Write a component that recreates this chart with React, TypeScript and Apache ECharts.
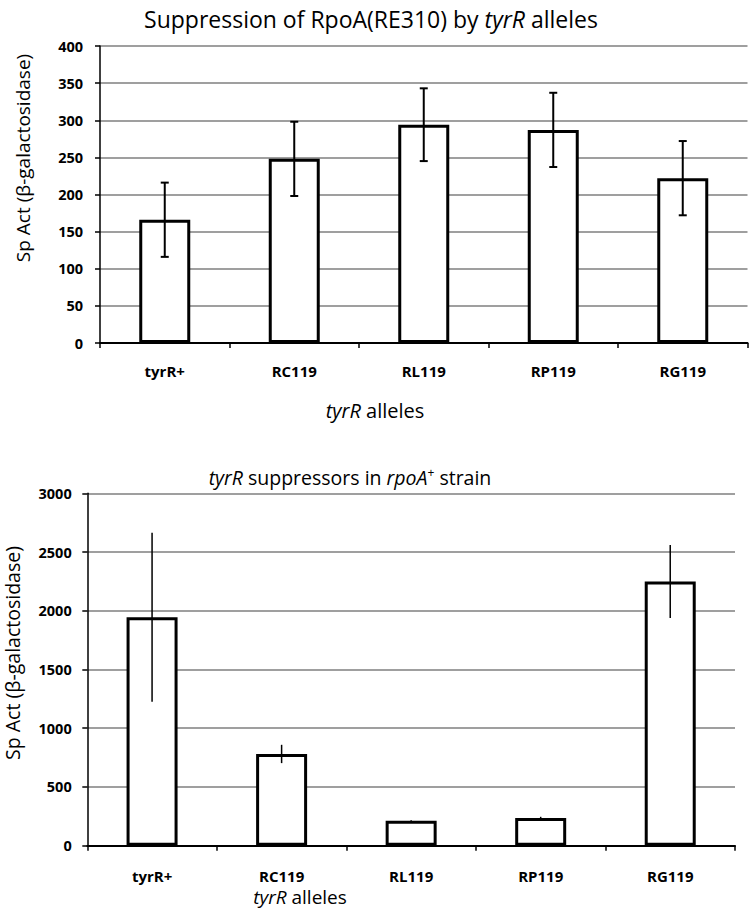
import React, { useEffect, useRef } from "react";
import * as echarts from "echarts";

const categories = ["tyrR+", "RC119", "RL119", "RP119", "RG119"];
const topValues = [166, 248, 294, 287, 222];
const topErrors = [50, 50, 49, 50, 50];
const bottomValues = [1945, 781, 212, 236, 2249];
const bottomErrors = [720, 78, 4, 10, 310];
const topAxis = { min: 0, max: 400, interval: 50 };
const bottomAxis = { min: 0, max: 3000, interval: 500 };

const FONT = "'Open Sans', sans-serif";
const LABEL_FONT = "'Open Sans', sans-serif";

function errData(values: number[], errs: number[]) {
  return values.map((v, i) => [i, v + errs[i], v - errs[i]]);
}

function errSeries(idx: number, values: number[], errs: number[], caps: boolean, lw: number) {
  return {
    type: "custom",
    xAxisIndex: idx,
    yAxisIndex: idx,
    z: 5,
    data: errData(values, errs),
    encode: { x: 0, y: [1, 2] },
    renderItem: (params: any, api: any) => {
      const x = api.value(0);
      const hi = api.coord([x, api.value(1)]);
      const lo = api.coord([x, api.value(2)]);
      const children: any[] = [
        { type: "line", shape: { x1: hi[0], y1: hi[1], x2: lo[0], y2: lo[1] }, style: { stroke: "#000", lineWidth: lw } },
      ];
      if (caps) {
        const w = 4;
        children.push({ type: "line", shape: { x1: hi[0] - w, y1: hi[1], x2: hi[0] + w, y2: hi[1] }, style: { stroke: "#000", lineWidth: lw } });
        children.push({ type: "line", shape: { x1: lo[0] - w, y1: lo[1], x2: lo[0] + w, y2: lo[1] }, style: { stroke: "#000", lineWidth: lw } });
      }
      return { type: "group", children };
    },
  };
}

function xAxis(idx: number, margin: number) {
  return {
    type: "category",
    gridIndex: idx,
    data: categories,
    axisLine: { lineStyle: { color: "#000", width: 2 } },
    axisTick: { show: true, length: 5, lineStyle: { color: "#000", width: 1.5 } },
    axisLabel: { color: "#000", fontWeight: "bold", fontSize: 15, fontFamily: LABEL_FONT, margin },
  };
}

function yAxis(idx: number, cfg: any, margin: number) {
  return {
    type: "value",
    gridIndex: idx,
    min: cfg.min,
    max: cfg.max,
    interval: cfg.interval,
    axisLine: { show: true, lineStyle: { color: "#000", width: 1.5 } },
    axisTick: { show: true, length: 5, lineStyle: { color: "#000", width: 1.5 } },
    axisLabel: {
      color: "#000",
      fontWeight: "bold",
      fontSize: 14.5,
      fontFamily: LABEL_FONT,
      margin,
      formatter: (v: number) => String(v),
    },
    splitLine: { show: true, lineStyle: { color: "#7f7f7f", width: 1.5 } },
  };
}

const n = (size: number) => ({ fontSize: size, fontFamily: FONT, fill: "#000" });
const it = (size: number) => ({ fontSize: size, fontFamily: FONT, fontStyle: "italic", fill: "#000" });

function textEl(x: number, y: number, text: string, rich: any, rotation = 0) {
  return {
    type: "text",
    x,
    y,
    rotation,
    style: { text, rich, align: "center", verticalAlign: "middle", textAlign: "center", textVerticalAlign: "middle", fill: "#000" },
  };
}

export default function App() {
  const ref = useRef<HTMLDivElement>(null);
  useEffect(() => {
    document.body.style.margin = "0";
    const chart = echarts.init(ref.current!, null, { renderer: "svg" });
    chart.setOption({
      animation: false,
      backgroundColor: "#fff",
      grid: [
        { left: 100, right: 2.5, top: 46, height: 297 },
        { left: 87.3, right: 15, top: 493.3, height: 352.4 },
      ],
      xAxis: [xAxis(0, 20), xAxis(1, 23)],
      yAxis: [yAxis(0, topAxis, 17), yAxis(1, bottomAxis, 15.6)],
      series: [
        {
          type: "bar",
          xAxisIndex: 0,
          yAxisIndex: 0,
          data: topValues,
          barWidth: 51,
          itemStyle: { color: "#fff", borderColor: "#000", borderWidth: 3 },
        },
        errSeries(0, topValues, topErrors, true, 2),
        {
          type: "bar",
          xAxisIndex: 1,
          yAxisIndex: 1,
          data: bottomValues,
          barWidth: 51,
          itemStyle: { color: "#fff", borderColor: "#000", borderWidth: 3 },
        },
        errSeries(1, bottomValues, bottomErrors, false, 1.5),
      ],
      graphic: [
        textEl(371, 19, "{n|Suppression of RpoA(RE310) by }{i|tyrR}{n| alleles}", { n: n(23), i: it(23) }),
        textEl(23, 158, "{n|Sp Act (β-galactosidase)}", { n: n(19) }, Math.PI / 2),
        textEl(375, 410, "{i|tyrR}{n| alleles}", { n: n(20), i: it(20) }),
        textEl(350, 477, "{i|tyrR}{n| suppressors in }{i|rpoA}{s|+}{n| strain}", {
          n: { ...n(19.5), lineHeight: 22 },
          i: { ...it(19.5), lineHeight: 22 },
          s: { fontSize: 12, fontFamily: FONT, fill: "#000", verticalAlign: "top", lineHeight: 22 },
        }),
        textEl(12.5, 653, "{n|Sp Act (β-galactosidase)}", { n: n(19.5) }, Math.PI / 2),
        textEl(300, 897, "{i|tyrR}{n| alleles}", { n: n(19), i: it(19) }),
      ],
    });
    return () => chart.dispose();
  }, []);
  return <div ref={ref} style={{ width: 750, height: 909 }} />;
}
